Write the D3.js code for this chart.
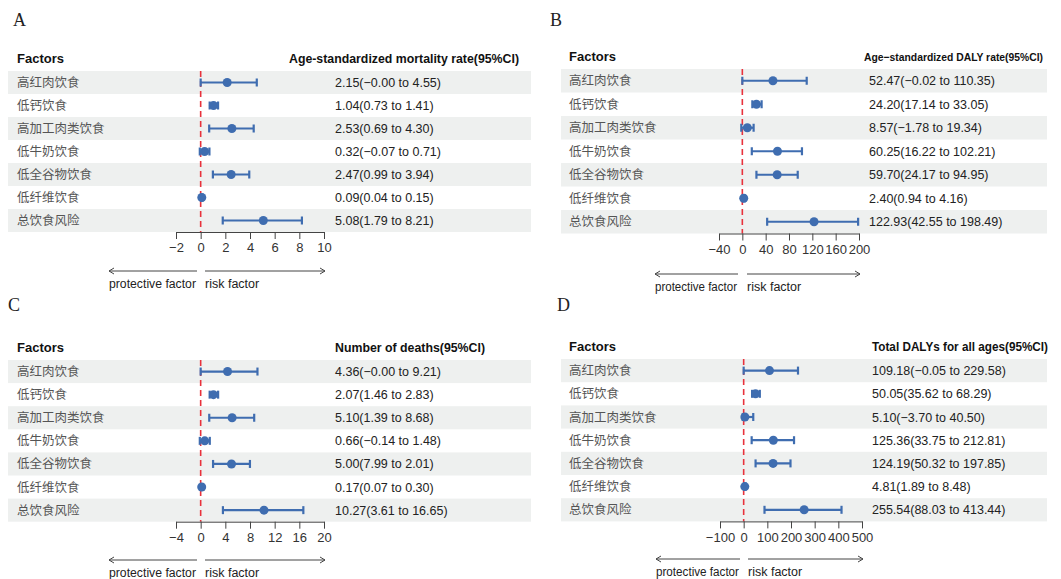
<!DOCTYPE html>
<html>
<head>
<meta charset="utf-8">
<script src="https://cdn.jsdelivr.net/npm/d3@7"></script>
<style>
  body { margin: 0; background: #fff; }
  svg { display: block; }
</style>
</head>
<body>
<svg id="chart" width="1061" height="579"></svg>
<script>
const factors = ['高红肉饮食', '低钙饮食', '高加工肉类饮食', '低牛奶饮食', '低全谷物饮食', '低纤维饮食', '总饮食风险'];

// A: age-standardized mortality rate
const mortEst  = [2.15, 1.04, 2.53, 0.32, 2.47, 0.09, 5.08];
const mortLow  = [-0, 0.73, 0.69, -0.07, 0.99, 0.04, 1.79];
const mortHigh = [4.55, 1.41, 4.30, 0.71, 3.94, 0.15, 8.21];
const mortTicks = [-2, 0, 2, 4, 6, 8, 10];

// B: age-standardized DALY rate
const dalyRateEst  = [52.47, 24.20, 8.57, 60.25, 59.70, 2.40, 122.93];
const dalyRateLow  = [-0.02, 17.14, -1.78, 16.22, 24.17, 0.94, 42.55];
const dalyRateHigh = [110.35, 33.05, 19.34, 102.21, 94.95, 4.16, 198.49];
const dalyRateTicks = [-40, 0, 40, 80, 120, 160, 200];

// C: number of deaths
const deathsEst  = [4.36, 2.07, 5.10, 0.66, 5.00, 0.17, 10.27];
const deathsLow  = [-0, 1.46, 1.39, -0.14, 7.99, 0.07, 3.61];
const deathsHigh = [9.21, 2.83, 8.68, 1.48, 2.01, 0.30, 16.65];
const deathsTicks = [-4, 0, 4, 8, 12, 16, 20];

// D: total DALYs, all ages
const dalysEst  = [109.18, 50.05, 5.10, 125.36, 124.19, 4.81, 255.54];
const dalysLow  = [-0.05, 35.62, -3.70, 33.75, 50.32, 1.89, 88.03];
const dalysHigh = [229.58, 68.29, 40.50, 212.81, 197.85, 8.48, 413.44];
const dalysTicks = [-100, 0, 100, 200, 300, 400, 500];

const BLUE = '#3f6db0';
const RED = '#e8323c';
const BAND = '#eef0ef';
const SANS = '"Liberation Sans", Arial, sans-serif';
const CJK = '"Noto Sans CJK SC", sans-serif';

const panels = [
  { tag: 'A', title: 'Age-standardized mortality rate(95%CI)', est: mortEst, low: mortLow, high: mortHigh, ticks: mortTicks,
    tagX: 13, tagY: 26, bandX: [8, 531], labelX: 17, headY: 63, top: 71, rowH: 23, range: [176, 324],
    valX: 335, titleX: 289, titleW: 230, titleSize: 13, arrowY: 271, arrows: [109, 197, 205, 325] },
  { tag: 'B', title: 'Age\u2212standardized DALY rate(95%CI)', est: dalyRateEst, low: dalyRateLow, high: dalyRateHigh, ticks: dalyRateTicks,
    tagX: 550, tagY: 26, bandX: [561, 1047], labelX: 569, headY: 61, top: 69, rowH: 23.5, range: [719, 859],
    valX: 869, titleX: 864, titleW: 179, titleSize: 11, arrowY: 274, arrows: [655, 738, 747, 860] },
  { tag: 'C', title: 'Number of deaths(95%CI)', est: deathsEst, low: deathsLow, high: deathsHigh, ticks: deathsTicks,
    tagX: 8, tagY: 311, bandX: [8, 531], labelX: 17, headY: 352, top: 360, rowH: 23.1, range: [176, 324],
    valX: 335, titleX: 335, titleW: 150, titleSize: 13, arrowY: 560, arrows: [109, 197, 205, 325] },
  { tag: 'D', title: 'Total DALYs for all ages(95%CI)', est: dalysEst, low: dalysLow, high: dalysHigh, ticks: dalysTicks,
    tagX: 557, tagY: 311, bandX: [561, 1047], labelX: 569, headY: 351, top: 359, rowH: 23.2, range: [720, 862],
    valX: 872, titleX: 872, titleW: 176, titleSize: 12.5, arrowY: 559, arrows: [656, 740, 748, 863] }
];

const fmt = v => (v < 0 || Object.is(v, -0)) ? '\u2212' + Math.abs(v).toFixed(2) : v.toFixed(2);

const svg = d3.select('#chart');

function drawPanel (p) {
  const g = svg.append('g');
  const x = d3.scaleLinear().domain(d3.extent(p.ticks)).range(p.range);
  const rows = factors.map((f, i) => ({ f, est: p.est[i], low: p.low[i], high: p.high[i], i }));
  const cy = i => p.top + p.rowH * (i + 0.5);
  const axisY = p.top + p.rowH * factors.length;

  g.append('text')
    .attr('x', p.tagX).attr('y', p.tagY)
    .attr('font-family', '"Liberation Serif", "DejaVu Serif", serif')
    .attr('font-size', 18)
    .attr('fill', '#222')
    .text(p.tag);

  // striped rows
  g.selectAll('rect.band').data(rows.filter(d => d.i % 2 === 0)).enter().append('rect')
    .attr('class', 'band')
    .attr('x', p.bandX[0]).attr('width', p.bandX[1] - p.bandX[0])
    .attr('y', d => p.top + p.rowH * d.i).attr('height', p.rowH)
    .attr('fill', BAND);

  g.append('text')
    .attr('x', p.labelX).attr('y', p.headY)
    .attr('font-family', SANS).attr('font-weight', 'bold').attr('font-size', 13)
    .attr('fill', '#111')
    .text('Factors');

  g.append('text')
    .attr('x', p.titleX).attr('y', p.headY)
    .attr('font-family', SANS).attr('font-weight', 'bold').attr('font-size', p.titleSize)
    .attr('textLength', p.titleW).attr('lengthAdjust', 'spacingAndGlyphs')
    .attr('fill', '#111')
    .text(p.title);

  g.selectAll('text.factor').data(rows).enter().append('text')
    .attr('class', 'factor')
    .attr('x', p.labelX).attr('y', d => cy(d.i) + 4.5)
    .attr('font-family', CJK).attr('font-size', 12.5)
    .attr('fill', '#555')
    .text(d => d.f);

  g.selectAll('text.val').data(rows).enter().append('text')
    .attr('class', 'val')
    .attr('x', p.valX).attr('y', d => cy(d.i) + 4.5)
    .attr('font-family', SANS).attr('font-size', 12.5)
    .attr('fill', '#222')
    .text(d => `${fmt(d.est)}(${fmt(d.low)} to ${fmt(d.high)})`);

  // reference line at zero
  g.append('line')
    .attr('x1', x(0)).attr('x2', x(0))
    .attr('y1', p.top).attr('y2', axisY)
    .attr('stroke', RED).attr('stroke-width', 1.6)
    .attr('stroke-dasharray', '6,4');

  const ci = g.selectAll('g.ci').data(rows).enter().append('g')
    .attr('class', 'ci')
    .attr('stroke', BLUE).attr('stroke-width', 2.2);
  ci.append('line')
    .attr('x1', d => x(Math.min(d.low, d.high))).attr('x2', d => x(Math.max(d.low, d.high)))
    .attr('y1', d => cy(d.i)).attr('y2', d => cy(d.i));
  ci.append('line')
    .attr('x1', d => x(Math.min(d.low, d.high))).attr('x2', d => x(Math.min(d.low, d.high)))
    .attr('y1', d => cy(d.i) - 4).attr('y2', d => cy(d.i) + 4);
  ci.append('line')
    .attr('x1', d => x(Math.max(d.low, d.high))).attr('x2', d => x(Math.max(d.low, d.high)))
    .attr('y1', d => cy(d.i) - 4).attr('y2', d => cy(d.i) + 4);
  ci.append('circle')
    .attr('cx', d => x(d.est)).attr('cy', d => cy(d.i))
    .attr('r', 4.5).attr('fill', BLUE).attr('stroke', 'none');

  const ax = g.append('g')
    .attr('transform', `translate(0,${axisY})`)
    .call(d3.axisBottom(x).tickValues(p.ticks).tickSize(7).tickSizeOuter(0).tickPadding(4));
  ax.select('.domain').attr('stroke', '#444');
  ax.selectAll('.tick line').attr('stroke', '#444');
  ax.selectAll('.tick text')
    .attr('font-family', SANS).attr('font-size', 13).attr('fill', '#333');

  // direction arrows
  const [l1, l2, r1, r2] = p.arrows;
  const ay = p.arrowY;
  g.append('path')
    .attr('d', `M${l2},${ay}H${l1}M${l1 + 5},${ay - 3}L${l1},${ay}L${l1 + 5},${ay + 3}` +
               `M${r1},${ay}H${r2}M${r2 - 5},${ay - 3}L${r2},${ay}L${r2 - 5},${ay + 3}`)
    .attr('fill', 'none').attr('stroke', '#444').attr('stroke-width', 1);
  g.append('text')
    .attr('x', l1).attr('y', ay + 17)
    .attr('font-family', SANS).attr('font-size', 12.5).attr('fill', '#222')
    .attr('textLength', l2 - l1 - 1).attr('lengthAdjust', 'spacingAndGlyphs')
    .text('protective factor');
  g.append('text')
    .attr('x', r1).attr('y', ay + 17)
    .attr('font-family', SANS).attr('font-size', 12.5).attr('fill', '#222')
    .text('risk factor');
}

panels.forEach(drawPanel);
</script>
</body>
</html>
